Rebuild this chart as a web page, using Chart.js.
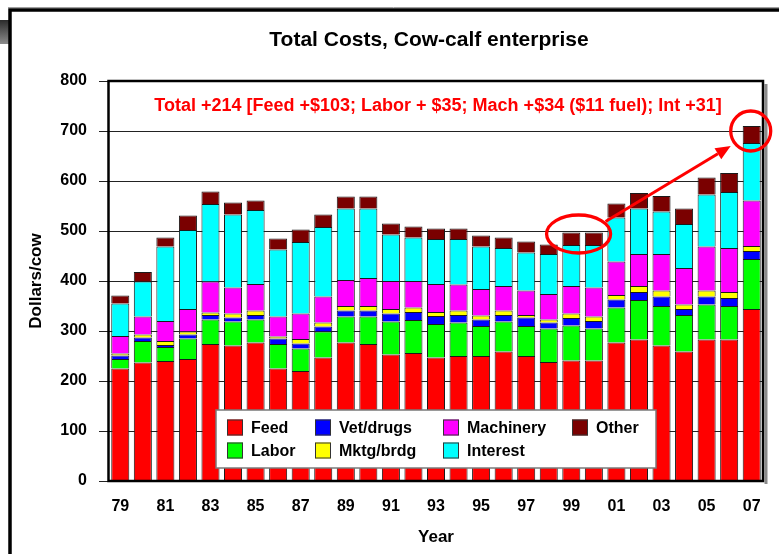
<!DOCTYPE html>
<html>
<head>
<meta charset="utf-8">
<script src="https://cdn.jsdelivr.net/npm/chart.js@4.4.0/dist/chart.umd.min.js"></script>
<style>
  html, body { margin: 0; padding: 0; background: #fff; }
</style>
</head>
<body>
<canvas id="costChart" width="779" height="554"></canvas>
<script>
var years = ["79", "80", "81", "82", "83", "84", "85", "86", "87", "88", "89", "90", "91", "92",
  "93", "94", "95", "96", "97", "98", "99", "00", "01", "02", "03", "04", "05", "06", "07"];

// dollars per cow, bottom of the stack first
var feed = [225, 237, 240, 244, 274, 271, 277, 225, 220, 247, 277, 274, 253, 256, 247, 250, 250, 259, 250, 238, 241, 241, 277, 283, 271, 259, 283, 283, 344];
var labor = [19, 43, 28, 41, 49, 48, 46, 49, 45, 52, 52, 55, 66, 66, 67, 67, 60, 60, 60, 67, 70, 64, 70, 79, 79, 73, 70, 67, 100];
var vetDrugs = [7, 7, 4, 8, 9, 8, 9, 11, 10, 10, 12, 12, 16, 16, 16, 15, 13, 13, 17, 12, 15, 15, 16, 16, 19, 12, 16, 16, 16];
var mktgBrdg = [4, 6, 8, 6, 5, 8, 9, 4, 9, 8, 9, 9, 9, 9, 8, 9, 8, 9, 5, 6, 9, 9, 9, 12, 12, 9, 12, 12, 10];
var machinery = [35, 36, 40, 45, 62, 52, 53, 40, 51, 52, 52, 56, 56, 53, 56, 52, 53, 49, 49, 51, 55, 58, 67, 64, 73, 73, 88, 88, 91];
var interest = [65, 70, 149, 158, 155, 146, 148, 134, 143, 139, 143, 139, 93, 87, 90, 91, 85, 76, 76, 80, 82, 85, 88, 91, 85, 88, 104, 112, 115];
var other = [16, 19, 18, 29, 25, 24, 19, 22, 25, 25, 24, 24, 22, 22, 21, 21, 22, 21, 22, 19, 25, 25, 28, 31, 31, 31, 34, 38, 34];

var yTicks = [0, 100, 200, 300, 400, 500, 600, 700, 800];

var chartTitle = "Total Costs, Cow-calf enterprise";
var note = "Total +214 [Feed +$103; Labor + $35; Mach +$34 ($11 fuel); Int +31]";

var FONT = '"Liberation Sans", Arial, Helvetica, sans-serif';

function makeSet(label, values, color) {
  return {
    label: label,
    data: values,
    backgroundColor: color,
    borderColor: "#1a1a1a",
    borderWidth: 1,
    barPercentage: 0.8,
    categoryPercentage: 1.0,
  };
}

function ellipse(ctx, cx, cy, rx, ry) {
  ctx.beginPath();
  ctx.ellipse(cx, cy, rx, ry, 0, 0, Math.PI * 2);
  ctx.stroke();
}

function drawLegend(ctx, datasets) {
  // position of each series: [column, row]
  var cols = [227, 315, 443, 572];
  var rows = [427.5, 450.5];
  var spots = [[0, 0], [0, 1], [1, 0], [1, 1], [2, 0], [2, 1], [3, 0]];
  ctx.fillStyle = "#fff";
  ctx.fillRect(216, 410, 440, 58);
  ctx.strokeStyle = "#7a7a7a";
  ctx.lineWidth = 1.5;
  ctx.strokeRect(216, 410, 440, 58);
  ctx.font = "bold 16px " + FONT;
  ctx.textBaseline = "middle";
  ctx.textAlign = "left";
  for (var i = 0; i < datasets.length; i++) {
    var sx = cols[spots[i][0]];
    var sy = rows[spots[i][1]];
    ctx.fillStyle = datasets[i].backgroundColor;
    ctx.fillRect(sx, sy - 8, 16, 16);
    ctx.strokeStyle = "#333";
    ctx.lineWidth = 1;
    ctx.strokeRect(sx + 0.5, sy - 7.5, 15, 15);
    ctx.fillStyle = "#000";
    ctx.fillText(datasets[i].label, sx + 24, sy + 1);
  }
}

var decorPlugin = {
  id: "decor",
  beforeDraw: function (chart) {
    var ctx = chart.ctx;
    ctx.save();
    ctx.fillStyle = "#fff";
    ctx.fillRect(0, 0, chart.width, chart.height);
    // slide frame
    var g = ctx.createLinearGradient(0, 20, 0, 44);
    g.addColorStop(0, "#2b2b2b");
    g.addColorStop(1, "#8c8c8c");
    ctx.fillStyle = g;
    ctx.fillRect(0, 20, 9, 24);
    ctx.strokeStyle = "#a0a0a0";
    ctx.lineWidth = 1;
    ctx.beginPath();
    ctx.moveTo(8, 7.5);
    ctx.lineTo(chart.width, 7.5);
    ctx.stroke();
    ctx.strokeStyle = "#000";
    ctx.lineWidth = 3.5;
    ctx.beginPath();
    ctx.moveTo(10, chart.height + 5);
    ctx.lineTo(10, 10);
    ctx.lineTo(chart.width + 5, 10);
    ctx.stroke();
    ctx.restore();
  },
  afterDatasetsDraw: function (chart) {
    var ctx = chart.ctx;
    var a = chart.chartArea;
    var x = chart.scales.x;
    var y = chart.scales.y;
    ctx.save();

    // plot box with a grey drop shadow on the right
    ctx.fillStyle = "#8a8a8a";
    ctx.fillRect(a.right + 1.5, a.top + 3, 3, a.bottom - a.top);
    ctx.strokeStyle = "#000";
    ctx.lineWidth = 2.5;
    ctx.strokeRect(a.left - 0.5, a.top, a.right - a.left + 0.5, a.bottom - a.top);

    drawLegend(ctx, chart.data.datasets);

    // note in red
    ctx.fillStyle = "#ff0000";
    ctx.font = "bold 18px " + FONT;
    ctx.textAlign = "center";
    ctx.textBaseline = "middle";
    ctx.fillText(note, 438, 106);

    // circles and arrow
    var cx1 = (x.getPixelForValue(20) + x.getPixelForValue(21)) / 2 - 4;
    var cy1 = y.getPixelForValue(494);
    var cx2 = x.getPixelForValue(28) - 1;
    var cy2 = y.getPixelForValue(700);
    ctx.strokeStyle = "#ff0000";
    ctx.lineWidth = 3.3;
    ellipse(ctx, cx1, cy1, 32, 19);
    ellipse(ctx, cx2, cy2, 20, 20);

    var x0 = cx1 + 27, y0 = cy1 - 12.5;
    var x1 = cx2 - 20, y1 = cy2 + 15;
    var ang = Math.atan2(y1 - y0, x1 - x0);
    var hl = 15, hw = 6.5;
    var bx = x1 - hl * Math.cos(ang), by = y1 - hl * Math.sin(ang);
    ctx.lineWidth = 3;
    ctx.beginPath();
    ctx.moveTo(x0, y0);
    ctx.lineTo(bx, by);
    ctx.stroke();
    ctx.fillStyle = "#ff0000";
    ctx.beginPath();
    ctx.moveTo(x1, y1);
    ctx.lineTo(bx + hw * Math.sin(ang), by - hw * Math.cos(ang));
    ctx.lineTo(bx - hw * Math.sin(ang), by + hw * Math.cos(ang));
    ctx.closePath();
    ctx.fill();
    ctx.restore();
  },
  afterDraw: function (chart) {
    var ctx = chart.ctx;
    var a = chart.chartArea;
    ctx.save();
    ctx.fillStyle = "#000";
    ctx.textAlign = "center";
    ctx.textBaseline = "middle";
    ctx.font = "bold 21px " + FONT;
    ctx.fillText(chartTitle, 429, 40);
    ctx.font = "bold 17px " + FONT;
    ctx.fillText("Year", 436, 537);
    ctx.translate(36, (a.top + a.bottom) / 2);
    ctx.rotate(-Math.PI / 2);
    ctx.fillText("Dollars/cow", 0, 0);
    ctx.restore();
  },
};

var ctx = document.getElementById("costChart").getContext("2d");
var costChart = new Chart(ctx, {
  type: "bar",
  data: {
    labels: years,
    datasets: [
      makeSet("Feed", feed, "#ff0000"),
      makeSet("Labor", labor, "#00ff00"),
      makeSet("Vet/drugs", vetDrugs, "#0000ff"),
      makeSet("Mktg/brdg", mktgBrdg, "#ffff00"),
      makeSet("Machinery", machinery, "#ff00ff"),
      makeSet("Interest", interest, "#00ffff"),
      makeSet("Other", other, "#7a0000"),
    ],
  },
  options: {
    responsive: false,
    animation: false,
    devicePixelRatio: 1,
    layout: {
      padding: { left: 0, top: 81, right: 16, bottom: 0 },
    },
    plugins: {
      legend: { display: false },
      title: { display: false },
      tooltip: { enabled: false },
    },
    scales: {
      x: {
        stacked: true,
        offset: true,
        grid: { display: false, drawTicks: false },
        border: { display: false },
        ticks: {
          autoSkip: false,
          maxRotation: 0,
          padding: 16,
          color: "#000",
          font: { family: FONT, size: 16, weight: "bold" },
          callback: function (val, i) {
            return i % 2 === 0 ? years[i] : "";
          },
        },
        afterFit: function (scale) {
          scale.height = 73;
        },
      },
      y: {
        stacked: true,
        min: yTicks[0],
        max: yTicks[yTicks.length - 1],
        grid: { color: "#222", lineWidth: 1, tickLength: 10, drawTicks: true },
        border: { display: false },
        afterBuildTicks: function (scale) {
          scale.ticks = yTicks.map(function (v) { return { value: v }; });
        },
        ticks: {
          padding: 12,
          color: "#000",
          font: { family: FONT, size: 16, weight: "bold" },
        },
        afterFit: function (scale) {
          scale.width = 109;
        },
      },
    },
  },
  plugins: [decorPlugin],
});
</script>
</body>
</html>
